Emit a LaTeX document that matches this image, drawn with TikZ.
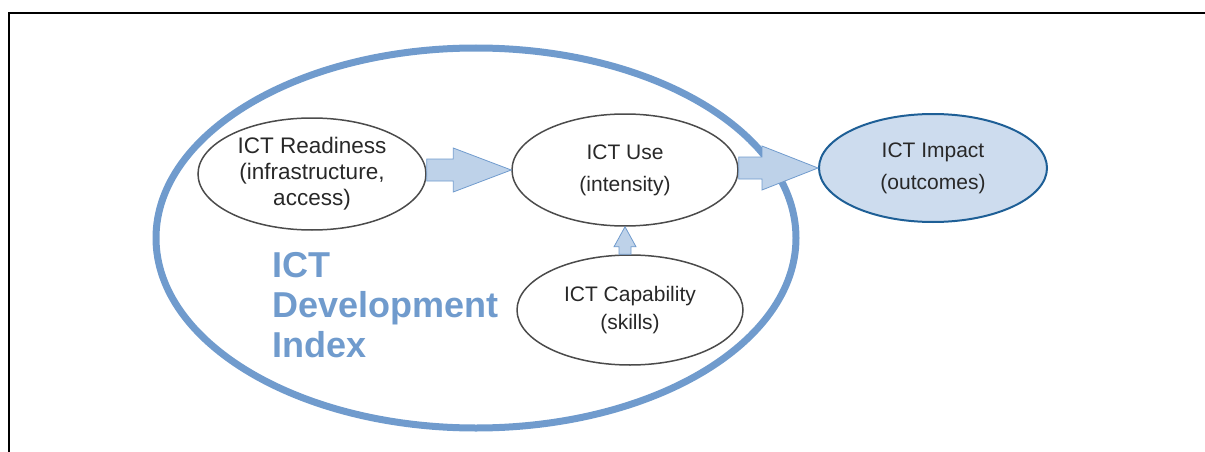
\documentclass[tikz,border=0pt]{standalone}
\usepackage{fontspec}
\setmainfont{Liberation Sans}
\usetikzlibrary{shapes.geometric,calc}

\definecolor{idiblue}{RGB}{112,155,205}
\definecolor{arrowfill}{RGB}{190,210,233}
\definecolor{impactfill}{RGB}{205,220,238}
\definecolor{impactline}{RGB}{30,95,150}
\definecolor{ovalline}{RGB}{75,75,75}
\definecolor{ovaltext}{RGB}{40,40,40}

\begin{document}
\begin{tikzpicture}[x=1pt,y=-1pt]
\tikzstyle{every node}+=[inner sep=0pt]
\tikzstyle{oval}=[ellipse, draw=ovalline, line width=1.5pt, text=ovaltext, align=center,
  minimum width=228pt, minimum height=112pt, font=\fontsize{21}{28}\selectfont]
\tikzstyle{fatarrow}=[draw=idiblue, line width=0.8pt, fill=arrowfill, line join=miter]
\useasboundingbox (0,0) rectangle (1205,452);
% frame
\draw [black, line width=1.5pt] (8,13) -- (1205,13);
\draw [black, line width=1.5pt] (9,13) -- (9,452);
% index ring
\node [ellipse, draw=idiblue, line width=7pt, minimum width=640pt, minimum height=380pt] (idi) at (476,238) {};
\node [anchor=north west, align=left, text=idiblue, font=\fontsize{36}{40}\selectfont\bfseries] (idilabel) at (272,252) {ICT\\Development\\Index};
% sub-indices
\node [oval, font=\fontsize{22.5}{26}\selectfont] (ready) at (312,174) {ICT Readiness\\(infrastructure,\\access)};
\node [oval, minimum width=226pt, font=\fontsize{21}{32}\selectfont] (use) at (625,170) {ICT Use\\(intensity)};
\node [oval, minimum width=226pt, minimum height=110pt] (cap) at (630,310) {ICT Capability\\(skills)};
\node [oval, draw=impactline, line width=2pt, fill=impactfill, minimum height=108pt, font=\fontsize{21}{32}\selectfont] (impact) at (933,168) {ICT Impact\\(outcomes)};
% arrows
\draw [fatarrow] let \p1=(ready.east), \p2=(use.west) in
  (\x1,\y2+11pt) -- (\x2-58pt,\y2+11pt) -- (\x2-58pt,\y2+22pt) -- (\x2,\y2)
  -- (\x2-58pt,\y2-22pt) -- (\x2-58pt,\y2-11pt) -- (\x1,\y2-11pt) -- cycle;
\draw [fatarrow] let \p1=(use.east), \p2=(impact.west) in
  (\x1,\y2+11pt) -- (\x2-56pt,\y2+11pt) -- (\x2-56pt,\y2+22pt) -- (\x2,\y2)
  -- (\x2-56pt,\y2-22pt) -- (\x2-56pt,\y2-11pt) -- (\x1,\y2-11pt) -- cycle;
\draw [fatarrow] let \p1=(cap.north), \p2=(use.south) in
  (\x2-6pt,\y1) -- (\x2-6pt,\y2-20pt) -- (\x2-11pt,\y2-20pt) -- (\x2,\y2)
  -- (\x2+11pt,\y2-20pt) -- (\x2+6pt,\y2-20pt) -- (\x2+6pt,\y1) -- cycle;
\end{tikzpicture}
\end{document}
